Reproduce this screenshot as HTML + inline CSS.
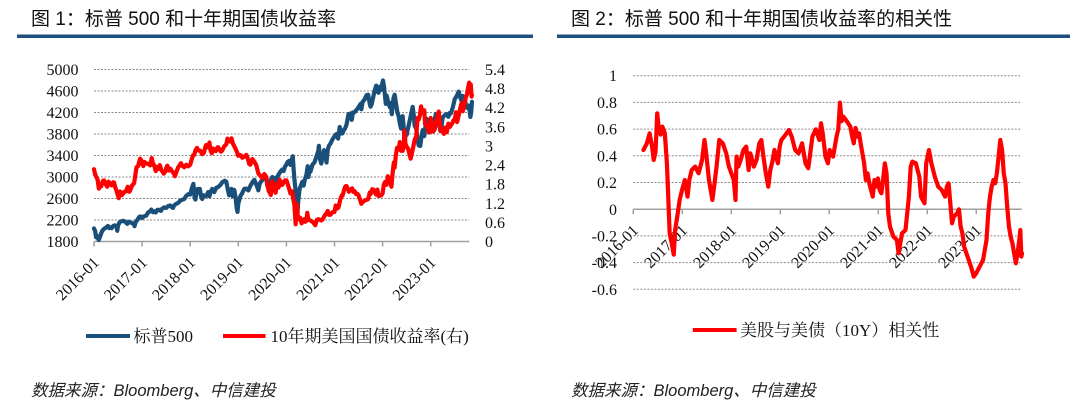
<!DOCTYPE html>
<html>
<head>
<meta charset="utf-8">
<style>
html,body{margin:0;padding:0;background:#fff;}
body{width:1080px;height:410px;overflow:hidden;}
svg{display:block;}
.ttl{font-family:"Liberation Sans","Noto Sans CJK SC",sans-serif;font-size:19px;fill:#111;}
.ax{font-family:"Liberation Serif","Noto Serif CJK SC",serif;font-size:16px;fill:#111;}
.lg{font-family:"Liberation Serif","Noto Serif CJK SC",serif;font-size:17px;fill:#111;}
.ft{font-family:"Liberation Sans","Noto Sans CJK SC",sans-serif;font-size:16.5px;font-style:italic;fill:#222;}
.grid{stroke:#8a8a8a;stroke-width:1;stroke-dasharray:2 1.5;fill:none;}
.axis{stroke:#a0a0a0;stroke-width:1.5;fill:none;}
.ser{fill:none;stroke-width:4.2;stroke-linejoin:round;stroke-linecap:round;vector-effect:non-scaling-stroke;}
</style>
</head>
<body>
<svg width="1080" height="410" viewBox="0 0 1080 410" xmlns="http://www.w3.org/2000/svg">
<!-- Titles -->
<text class="ttl" x="31" y="25">图 1：标普 500 和十年期国债收益率</text>
<rect x="17" y="34.5" width="516" height="3.5" fill="#1c4f7f"/>
<text class="ttl" x="571" y="25">图 2：标普 500 和十年期国债收益率的相关性</text>
<rect x="557" y="34.5" width="513" height="3.5" fill="#1c4f7f"/>

<!-- LEFT CHART -->
<g>
<line class="grid" x1="94" x2="469.3" y1="69.5" y2="69.5"/>
<line class="grid" x1="94" x2="469.3" y1="91" y2="91"/>
<line class="grid" x1="94" x2="469.3" y1="112.5" y2="112.5"/>
<line class="grid" x1="94" x2="469.3" y1="134" y2="134"/>
<line class="grid" x1="94" x2="469.3" y1="155.5" y2="155.5"/>
<line class="grid" x1="94" x2="469.3" y1="177" y2="177"/>
<line class="grid" x1="94" x2="469.3" y1="198.5" y2="198.5"/>
<line class="grid" x1="94" x2="469.3" y1="220" y2="220"/>
<line class="axis" x1="94" x2="469.3" y1="241.5" y2="241.5"/>
<path class="axis" d="M94 241.5v5M142.1 241.5v5M190.2 241.5v5M238.3 241.5v5M286.4 241.5v5M334.5 241.5v5M382.6 241.5v5M430.7 241.5v5"/>
<g class="ax" text-anchor="end">
<text x="78.5" y="75">5000</text>
<text x="78.5" y="96.5">4600</text>
<text x="78.5" y="118">4200</text>
<text x="78.5" y="139.5">3800</text>
<text x="78.5" y="161">3400</text>
<text x="78.5" y="182.5">3000</text>
<text x="78.5" y="204">2600</text>
<text x="78.5" y="225.5">2200</text>
<text x="78.5" y="247">1800</text>
</g>
<g class="ax">
<text x="485" y="75">5.4</text>
<text x="485" y="94.1">4.8</text>
<text x="485" y="113.2">4.2</text>
<text x="485" y="132.3">3.6</text>
<text x="485" y="151.5">3</text>
<text x="485" y="170.6">2.4</text>
<text x="485" y="189.7">1.8</text>
<text x="485" y="208.8">1.2</text>
<text x="485" y="227.9">0.6</text>
<text x="485" y="247">0</text>
</g>
<g class="ax" text-anchor="end">
<text transform="translate(100,263.5) rotate(-45)">2016-01</text>
<text transform="translate(148.1,263.5) rotate(-45)">2017-01</text>
<text transform="translate(196.2,263.5) rotate(-45)">2018-01</text>
<text transform="translate(244.3,263.5) rotate(-45)">2019-01</text>
<text transform="translate(292.4,263.5) rotate(-45)">2020-01</text>
<text transform="translate(340.5,263.5) rotate(-45)">2021-01</text>
<text transform="translate(388.6,263.5) rotate(-45)">2022-01</text>
<text transform="translate(436.7,263.5) rotate(-45)">2023-01</text>
</g>
<!-- S&P 500 -->
<g transform="matrix(4.0083 0 0 -0.05375 94 338.25)">
<polyline class="ser" stroke="#1a4f7a" points="0,2044 0.3,1990 0.5,1880 0.7,1910 0.9,1870 1.2,1829 1.4,1870 1.7,1930 2,1990 2.3,2020 2.6,2040 3,2060 3.5,2090 3.8,2050 4.1,2060 4.4,2047 4.8,2090 5.2,2100 5.6,2080 5.8,2000 6,2099 6.4,2160 6.8,2174 7.3,2185 7.7,2170 8.3,2128 8.6,2165 9,2160 9.5,2140 10,2126 10.1,2085 10.4,2165 10.8,2200 11.3,2260 11.7,2265 12,2239 12.5,2270 13,2279 13.5,2340 14,2364 14.3,2395 14.7,2345 15,2363 15.4,2340 15.8,2388 16.2,2390 16.7,2370 17,2412 17.5,2435 18,2423 18.5,2460 19,2470 19.4,2440 19.7,2425 20,2472 20.5,2500 21,2519 21.5,2560 22,2575 22.5,2590 23,2648 23.5,2680 24,2674 24.4,2790 24.8,2873 25.1,2620 25.3,2581 25.6,2730 25.9,2780 26.1,2714 26.4,2780 26.7,2640 27,2590 27.3,2660 27.6,2640 28,2648 28.5,2720 28.8,2640 29,2705 29.5,2780 30,2718 30.5,2800 31,2816 31.5,2850 32,2902 32.6,2930 33,2914 33.4,2760 33.7,2660 34,2711 34.3,2780 34.6,2640 35,2760 35.3,2630 35.6,2420 35.8,2351 36,2507 36.5,2640 37,2704 37.5,2780 38,2784 38.5,2750 39,2834 39.5,2900 40,2946 40.5,2860 41,2752 41.3,2870 41.8,2930 42,2942 42.6,3020 43,2980 43.2,2845 43.6,2880 44,2926 44.5,3000 45,2977 45.3,2890 45.7,3000 46,3038 46.5,3100 47,3141 47.3,3110 47.7,3200 48,3231 48.3,3280 48.7,3300 49,3226 49.3,3320 49.6,3386 49.8,3150 50,2954 50.3,2750 50.5,2480 50.7,2237 50.9,2500 51,2585 51.3,2780 51.6,2840 52,2912 52.3,2840 52.6,2950 53,3044 53.3,3200 53.5,3000 53.7,3100 54,3100 54.5,3230 55,3271 55.5,3380 56,3500 56.1,3580 56.4,3330 56.7,3250 57,3363 57.4,3500 57.8,3400 58,3270 58.3,3500 58.6,3580 59,3622 59.5,3700 60,3756 60.5,3800 60.9,3714 61.3,3930 61.7,3810 62,3811 62.3,3870 62.6,3900 63,3973 63.5,4170 64,4181 64.3,4063 64.6,4200 65,4204 65.5,4250 66,4298 66.5,4360 66.7,4260 67,4395 67.5,4440 68,4523 68.4,4530 68.8,4360 69,4308 69.3,4360 69.7,4500 70,4605 70.4,4700 70.8,4580 71,4567 71.3,4680 71.6,4620 72,4766 72.1,4796 72.4,4660 72.8,4360 73,4516 73.4,4400 73.8,4300 74,4374 74.3,4170 74.7,4460 75,4530 75.3,4390 75.7,4200 76,4132 76.3,4000 76.6,3901 76.9,4050 77,4132 77.3,3900 77.5,3667 77.8,3800 78,3785 78.5,3960 79,4130 79.5,4305 79.8,4140 80,3955 80.4,3900 80.7,3700 81,3586 81.2,3640 81.4,3577 81.7,3750 82,3872 82.4,3760 82.7,3950 83,4080 83.4,3990 83.7,3850 84,3840 84.3,3900 84.6,4000 85,4077 85.3,4170 85.7,4010 86,3970 86.3,3920 86.4,3855 86.7,3950 87,4109 87.5,4150 88,4169 88.4,4120 88.7,4190 89,4180 89.5,4290 90,4450 90.5,4510 91,4589 91.5,4450 91.8,4400 92,4508 92.5,4460 92.8,4330 93,4288 93.4,4330 93.7,4240 93.9,4117 94.1,4200 94.3,4400"/>
</g>
<!-- 10Y yield -->
<g transform="matrix(4.0083 0 0 -31.85 94 241.5)">
<polyline class="ser" stroke="#ff0000" points="0,2.27 0.3,2.1 0.6,2.02 0.9,1.94 1.2,1.66 1.5,1.75 1.8,1.73 2.2,1.9 2.5,1.92 3,1.78 3.3,1.72 3.6,1.88 4,1.83 4.4,1.76 4.8,1.86 5,1.85 5.3,1.7 5.6,1.6 5.9,1.47 6.2,1.36 6.5,1.57 7,1.46 7.5,1.55 8,1.58 8.4,1.72 8.8,1.56 9,1.6 9.5,1.76 10,1.83 10.3,2.07 10.6,2.33 11,2.37 11.5,2.6 11.8,2.55 12,2.44 12.3,2.37 12.6,2.5 13,2.45 13.5,2.44 14,2.39 14.4,2.62 14.8,2.4 15,2.4 15.4,2.21 15.8,2.34 16,2.28 16.4,2.4 16.8,2.24 17,2.21 17.4,2.13 17.8,2.2 18,2.3 18.3,2.38 18.7,2.23 19,2.29 19.5,2.2 20,2.12 20.2,2.05 20.6,2.2 21,2.33 21.4,2.4 21.7,2.46 22,2.38 22.5,2.33 23,2.41 23.5,2.36 24,2.41 24.3,2.55 24.7,2.7 25,2.72 25.3,2.86 25.7,2.94 26,2.86 26.5,2.85 27,2.74 27.4,2.78 27.8,2.98 28,3.03 28.5,2.95 28.8,3.11 29.1,2.85 29.4,2.77 29.7,2.92 30,2.86 30.4,2.84 30.8,2.96 31,2.96 31.4,2.87 31.7,2.82 32,2.86 32.5,2.99 33,3.05 33.3,3.23 33.7,3.15 34,3.14 34.3,3.24 34.7,3.06 35,2.99 35.4,2.89 35.7,2.8 36,2.69 36.3,2.72 36.7,2.7 37,2.63 37.5,2.66 38,2.72 38.3,2.63 38.7,2.44 39,2.41 39.5,2.59 40,2.51 40.5,2.39 41,2.14 41.3,2.09 41.7,2.03 42,2 42.5,2.12 43,2.02 43.3,1.75 43.6,1.58 44,1.5 44.1,1.46 44.5,1.89 44.8,1.72 45,1.68 45.3,1.53 45.6,1.8 46,1.69 46.3,1.94 46.7,1.77 47,1.78 47.4,1.89 47.7,1.92 48,1.92 48.3,1.81 48.7,1.65 49,1.51 49.4,1.58 49.7,1.35 50,1.15 50.3,0.54 50.6,1.18 50.8,0.85 51,0.7 51.4,0.75 51.8,0.57 52,0.64 52.4,0.7 52.7,0.62 53,0.65 53.2,0.9 53.5,0.68 54,0.66 54.5,0.62 55,0.55 55.2,0.51 55.6,0.68 56,0.7 56.4,0.68 56.7,0.66 57,0.69 57.4,0.78 57.8,0.86 58,0.88 58.3,0.96 58.6,0.84 59,0.84 59.5,0.92 60,0.93 60.3,1.13 60.7,1.04 61,1.07 61.4,1.3 61.8,1.44 62,1.44 62.4,1.62 62.7,1.73 63,1.74 63.3,1.66 63.6,1.56 64,1.63 64.4,1.67 64.7,1.56 65,1.58 65.4,1.49 65.7,1.5 66,1.45 66.4,1.3 66.7,1.18 67,1.24 67.5,1.28 68,1.31 68.4,1.33 68.8,1.54 69,1.49 69.4,1.64 69.7,1.63 70,1.55 70.4,1.47 70.7,1.63 71,1.43 71.4,1.44 71.7,1.45 72,1.51 72.3,1.78 72.6,1.87 73,1.78 73.3,2.05 73.6,1.92 74,1.83 74.2,1.72 74.5,2.15 74.8,2.48 75,2.32 75.3,2.7 75.6,2.94 76,2.89 76.3,3.12 76.6,2.85 77,2.85 77.3,3 77.45,3.48 77.7,3.07 78,2.98 78.4,2.9 78.7,2.75 79,2.6 79.5,2.88 80,3.19 80.4,3.3 80.7,3.88 81,3.83 81.3,3.95 81.6,4.24 81.8,4.1 82,4.05 82.4,4.12 82.6,3.69 83,3.61 83.3,3.53 83.6,3.42 84,3.88 84.3,3.72 84.6,3.45 85,3.52 85.3,3.7 85.7,3.92 86,4.08 86.3,3.7 86.5,3.48 87,3.48 87.3,3.38 87.6,3.58 88,3.43 88.4,3.7 88.8,3.6 89,3.64 89.4,3.72 89.7,3.81 90,3.81 90.3,4.06 90.6,3.75 91,3.97 91.4,4.2 91.7,4.34 92,4.09 92.4,4.3 92.8,4.55 93,4.59 93.3,4.8 93.6,4.99 93.8,4.85 94,4.93 94.2,4.55 94.3,4.6"/>
</g>
<!-- legend -->
<line x1="86" x2="130" y1="336" y2="336" stroke="#1a4f7a" stroke-width="4"/>
<text class="lg" x="133.5" y="342">标普500</text>
<line x1="223" x2="265.5" y1="336" y2="336" stroke="#ff0000" stroke-width="4"/>
<text class="lg" x="270.5" y="342">10年期美国国债收益率(右)</text>
<text class="ft" x="31" y="396">数据来源：Bloomberg、中信建投</text>
</g>

<!-- RIGHT CHART -->
<g>
<line class="grid" x1="633.3" x2="1021.7" y1="75.7" y2="75.7"/>
<line class="grid" x1="633.3" x2="1021.7" y1="102.4" y2="102.4"/>
<line class="grid" x1="633.3" x2="1021.7" y1="129.1" y2="129.1"/>
<line class="grid" x1="633.3" x2="1021.7" y1="155.8" y2="155.8"/>
<line class="grid" x1="633.3" x2="1021.7" y1="182.5" y2="182.5"/>
<line class="grid" x1="633.3" x2="1021.7" y1="235.9" y2="235.9"/>
<line class="grid" x1="633.3" x2="1021.7" y1="262.6" y2="262.6"/>
<line class="grid" x1="633.3" x2="1021.7" y1="289.3" y2="289.3"/>
<line class="axis" x1="633.3" x2="1021.7" y1="209.3" y2="209.3"/>
<path class="axis" d="M633.3 209.3v5M682.3 209.3v5M731.3 209.3v5M780.3 209.3v5M829.3 209.3v5M878.3 209.3v5M927.3 209.3v5M976.3 209.3v5"/>
<g class="ax" text-anchor="end">
<text x="617" y="81.2">1</text>
<text x="617" y="107.9">0.8</text>
<text x="617" y="134.6">0.6</text>
<text x="617" y="161.3">0.4</text>
<text x="617" y="188">0.2</text>
<text x="617" y="214.8">0</text>
<text x="617" y="241.4">-0.2</text>
<text x="617" y="268.1">-0.4</text>
<text x="617" y="294.8">-0.6</text>
</g>
<g class="ax" text-anchor="end">
<text transform="translate(639.3,231.3) rotate(-45)">2016-01</text>
<text transform="translate(688.3,231.3) rotate(-45)">2017-01</text>
<text transform="translate(737.3,231.3) rotate(-45)">2018-01</text>
<text transform="translate(786.3,231.3) rotate(-45)">2019-01</text>
<text transform="translate(835.3,231.3) rotate(-45)">2020-01</text>
<text transform="translate(884.3,231.3) rotate(-45)">2021-01</text>
<text transform="translate(933.3,231.3) rotate(-45)">2022-01</text>
<text transform="translate(982.3,231.3) rotate(-45)">2023-01</text>
</g>
<g transform="matrix(4.0833 0 0 -133.3 633.3 209.3)">
<polyline class="ser" stroke="#ff0000" points="2.48,0.445 3.33,0.495 4,0.57 4.6,0.47 5,0.37 5.44,0.43 5.69,0.6 5.86,0.72 6.2,0.62 6.71,0.56 7.13,0.62 7.72,0.57 8.23,0.345 8.56,0.095 8.9,-0.18 9.41,-0.255 9.91,-0.34 10.25,-0.155 10.76,-0.055 11.35,0.07 11.94,0.145 12.62,0.22 13.29,0.095 13.71,0.22 14.31,0.295 15.15,0.32 15.99,0.27 16.84,0.37 17.43,0.52 17.85,0.42 18.53,0.22 18.95,0.145 19.37,0.07 19.8,0.17 20.39,0.32 21.06,0.52 21.91,0.495 22.75,0.42 23.43,0.32 24.02,0.27 24.61,0.22 25.03,0.07 25.28,0.395 25.71,0.32 26.3,0.37 26.97,0.445 27.65,0.47 28.24,0.295 28.66,0.42 29.51,0.32 30.18,0.37 30.86,0.495 31.36,0.52 31.87,0.395 32.46,0.27 33.05,0.17 33.56,0.295 34.15,0.37 34.57,0.445 35.42,0.345 35.84,0.47 36.26,0.52 36.94,0.545 37.53,0.57 38.12,0.595 38.8,0.545 39.64,0.445 40.48,0.42 41.33,0.495 42.17,0.345 42.85,0.308 43.44,0.445 43.86,0.545 44.7,0.6 45.55,0.52 45.97,0.645 46.39,0.57 47.07,0.395 47.66,0.345 48.08,0.445 48.93,0.395 49.77,0.545 50.2,0.6 50.62,0.8 51,0.66 51.46,0.695 52.3,0.66 53.15,0.62 53.6,0.545 54,0.495 54.42,0.61 54.84,0.545 55.3,0.57 55.68,0.495 56.53,0.345 56.95,0.22 57.37,0.27 57.8,0.195 58.22,0.145 58.64,0.095 59.06,0.22 59.48,0.17 59.91,0.232 60.33,0.145 60.75,0.12 61.17,0.22 61.6,0.345 62.02,0.27 62.44,-0.03 62.86,-0.13 63.71,-0.205 64.55,-0.23 64.97,-0.33 65.39,-0.255 65.82,-0.18 66.66,-0.155 67.08,-0.03 67.5,0.095 67.93,0.32 68.35,0.358 69.19,0.345 70.04,0.245 70.46,0.095 70.88,0.07 71.31,0.045 71.73,0.345 72.41,0.445 73,0.345 73.84,0.245 74.68,0.17 75.53,0.145 76.37,0.095 76.8,0.17 77.22,0.195 77.64,0.045 78.06,-0.105 78.48,-0.055 79.33,-0.03 79.75,0 80.17,-0.13 80.6,-0.18 81.02,-0.28 81.86,-0.355 82.7,-0.43 83.38,-0.505 83.97,-0.48 84.82,-0.43 85.66,-0.38 86.08,-0.305 86.5,-0.23 86.93,-0.03 87.35,0.095 87.77,0.17 88.19,0.22 88.62,0.195 89.04,0.27 89.46,0.395 89.88,0.52 90.31,0.445 90.73,0.27 91.15,0.195 91.57,0.02 92,-0.13 92.42,-0.205 92.84,-0.255 93.26,-0.33 93.69,-0.405 94.11,-0.33 94.53,-0.23 94.78,-0.155 95.03,-0.355 95.2,-0.33"/>
</g>
<line x1="692.8" x2="736.6" y1="330" y2="330" stroke="#ff0000" stroke-width="4"/>
<text class="lg" x="740" y="336">美股与美债（10Y）相关性</text>
<text class="ft" x="571" y="396">数据来源：Bloomberg、中信建投</text>
</g>
</svg>
</body>
</html>
